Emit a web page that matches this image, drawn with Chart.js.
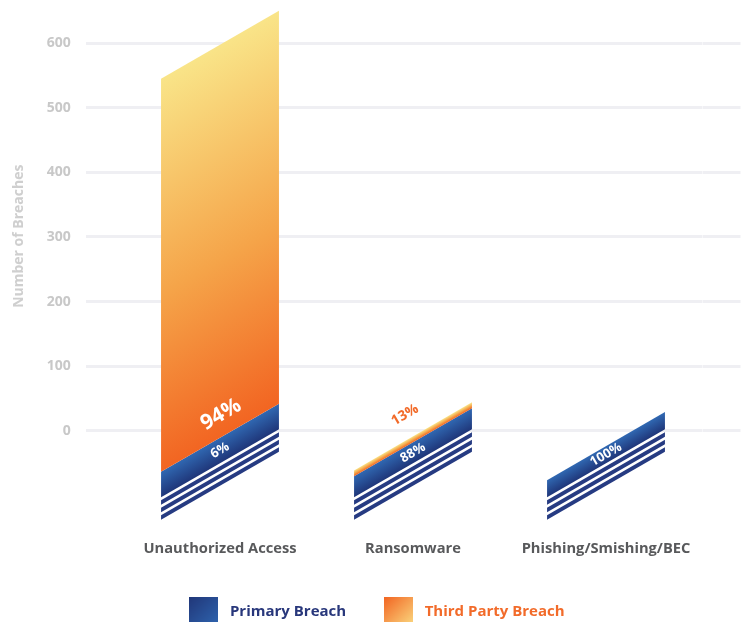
<!DOCTYPE html>
<html>
<head>
<meta charset="utf-8">
<script src="https://cdn.jsdelivr.net/npm/chart.js@4.4.1/dist/chart.umd.min.js"></script>
<style>
  html, body { margin: 0; padding: 0; background: #fff; }
  #wrap { width: 744px; height: 622px; }
</style>
</head>
<body>
<div id="wrap"><canvas id="chart"></canvas></div>
<script>
var categories = ['Unauthorized Access', 'Ransomware', 'Phishing/Smishing/BEC'];
var primaryBreach = [42, 35, 29];
var thirdPartyBreach = [608, 9, 0];
var primaryPct = ['6%', '88%', '100%'];
var thirdPartyPct = ['94%', '13%', ''];
var yTicks = [0, 100, 200, 300, 400, 500, 600];

var TAN30 = Math.tan(Math.PI / 6);
var BLUE_STOPS = [[0, '#3068b2'], [1, '#1f3679']];
var ORANGE_STOPS = [[0, '#f9e488'], [0.55, '#f5a449'], [1, '#f26522']];
var STRIPE = '#263b82';

Chart.defaults.font.family = "'Open Sans', sans-serif";

// slanted slab: right edge sits on the real value, left edge drops by tan(30)
function slab(ctx, cx, w, top, bottom) {
    var xl = cx - w / 2, xr = cx + w / 2, drop = w * TAN30;
    ctx.beginPath();
    ctx.moveTo(xr, top);
    ctx.lineTo(xr, bottom);
    ctx.lineTo(xl, bottom + drop);
    ctx.lineTo(xl, top + drop);
    ctx.closePath();
}

function bandGradient(ctx, cx, w, top, bottom, stops) {
    var h = bottom - top;
    var y0 = top + w * TAN30 / 2;
    var g = ctx.createLinearGradient(cx, y0, cx + 0.433 * h, y0 + 0.75 * h);
    for (var i = 0; i < stops.length; i++) g.addColorStop(stops[i][0], stops[i][1]);
    return g;
}

function slantText(ctx, text, x, y, size, color) {
    ctx.save();
    ctx.translate(x, y);
    ctx.rotate(-Math.PI / 6);
    ctx.font = 'bold ' + size + "px 'Open Sans'";
    ctx.fillStyle = color;
    ctx.textAlign = 'center';
    ctx.textBaseline = 'middle';
    ctx.fillText(text, 0, 0);
    ctx.restore();
}

var slantBars = {
    id: 'slantBars',
    beforeDatasetsDraw: function(chart) {
        var ctx = chart.ctx;
        var prim = chart.getDatasetMeta(0).data;
        var third = chart.getDatasetMeta(1).data;
        ctx.save();
        for (var i = 0; i < prim.length; i++) {
            var p = prim[i].getProps(['x', 'y', 'base', 'width'], true);
            var t = third[i].getProps(['x', 'y', 'base', 'width'], true);
            var w = p.width, drop = w * TAN30;

            // stripes under the bar
            ctx.fillStyle = STRIPE;
            for (var k = 0; k < 3; k++) {
                var st = p.base + 3 + k * 7.5;
                slab(ctx, p.x, w, st, st + 4.5);
                ctx.fill();
            }

            // primary
            slab(ctx, p.x, w, p.y, p.base);
            ctx.fillStyle = bandGradient(ctx, p.x, w, p.y, p.base, BLUE_STOPS);
            ctx.fill();

            // third party
            if (t.base - t.y > 0.5) {
                slab(ctx, t.x, w, t.y, t.base);
                ctx.fillStyle = bandGradient(ctx, t.x, w, t.y, t.base, ORANGE_STOPS);
                ctx.fill();
            }

            slantText(ctx, primaryPct[i], p.x, (p.y + p.base) / 2 + drop / 2, 13, '#ffffff');

            if (thirdPartyPct[i]) {
                if (t.base - t.y > 40) {
                    slantText(ctx, thirdPartyPct[i], t.x + 1, t.base + drop / 2 - 23, 21, '#ffffff');
                } else {
                    var lx = t.x - 8;
                    slantText(ctx, thirdPartyPct[i], lx, t.y + drop / 2 + 8 * TAN30 - 26, 14, '#f26b2a');
                }
            }
        }
        ctx.restore();
        return false;
    }
};

function swatch(c0, c1) {
    var c = document.createElement('canvas');
    c.width = 29;
    c.height = 30;
    var x = c.getContext('2d');
    var g = x.createLinearGradient(0, 0, 29, 30);
    g.addColorStop(0, c0);
    g.addColorStop(1, c1);
    x.fillStyle = g;
    x.fillRect(0, 0, 29, 30);
    return c;
}
var swatches = [swatch('#213779', '#2f66b1'), swatch('#f26522', '#fbdc83')];
var legendColors = ['#28377b', '#f26b2a'];

function fixedTicks(s) {
    s.ticks = yTicks.map(function(v) { return {value: v}; });
}
function noPad(s) {
    s.paddingLeft = 0; s.paddingRight = 0; s.paddingTop = 0; s.paddingBottom = 0;
}

new Chart(document.getElementById('chart'), {
    type: 'bar',
    data: {
        labels: categories,
        datasets: [
            { label: 'Primary Breach', data: primaryBreach, backgroundColor: '#2f66b1' },
            { label: 'Third Party Breach', data: thirdPartyBreach, backgroundColor: '#f26522' }
        ]
    },
    plugins: [slantBars],
    options: {
        responsive: true,
        maintainAspectRatio: false,
        animation: false,
        categoryPercentage: 0.611,
        barPercentage: 1,
        layout: { padding: { left: 6, top: 10.4, right: 0, bottom: -7.5 } },
        plugins: {
            tooltip: { enabled: false },
            legend: {
                position: 'bottom',
                title: { display: true, text: '', font: { size: 1 }, padding: { top: 5.75, bottom: 5.75 } },
                labels: {
                    usePointStyle: true,
                    pointStyleWidth: 37,
                    padding: 34,
                    font: { size: 15, weight: 'bold' },
                    generateLabels: function(chart) {
                        return chart.data.datasets.map(function(ds, i) {
                            return {
                                text: ds.label,
                                pointStyle: swatches[i],
                                fontColor: legendColors[i],
                                fillStyle: 'transparent',
                                strokeStyle: 'transparent',
                                lineWidth: 0,
                                hidden: false,
                                datasetIndex: i
                            };
                        });
                    }
                }
            }
        },
        scales: {
            x: {
                stacked: true,
                afterFit: function(s) { s.height = 95.8; noPad(s); },
                grid: { display: false, drawTicks: false },
                border: { display: false },
                ticks: { padding: 78.2, maxRotation: 0, color: '#58595b', font: { size: 14.7, weight: 'bold' } }
            },
            y: {
                stacked: true,
                min: -48.3,
                max: 650.6,
                afterBuildTicks: fixedTicks,
                afterFit: function(s) { s.width = 117.5; noPad(s); },
                grid: { color: '#efeff3', lineWidth: 3, tickLength: 37.5 },
                border: { display: false },
                ticks: { padding: 15.3, color: '#c8c8c8', font: { size: 14, weight: 'bold' } },
                title: {
                    display: true,
                    text: 'Number of Breaches',
                    color: '#cfcfcf',
                    font: { size: 14, weight: 'bold' },
                    padding: { top: 4.6, bottom: 0 }
                }
            },
            y2: {
                position: 'right',
                min: -48.3,
                max: 650.6,
                afterBuildTicks: fixedTicks,
                afterFit: function(s) { s.width = 41.5; noPad(s); },
                grid: { color: '#efeff3', lineWidth: 3, tickLength: 38, drawOnChartArea: false },
                border: { display: false },
                ticks: { display: false }
            }
        }
    }
});
</script>
</body>
</html>
